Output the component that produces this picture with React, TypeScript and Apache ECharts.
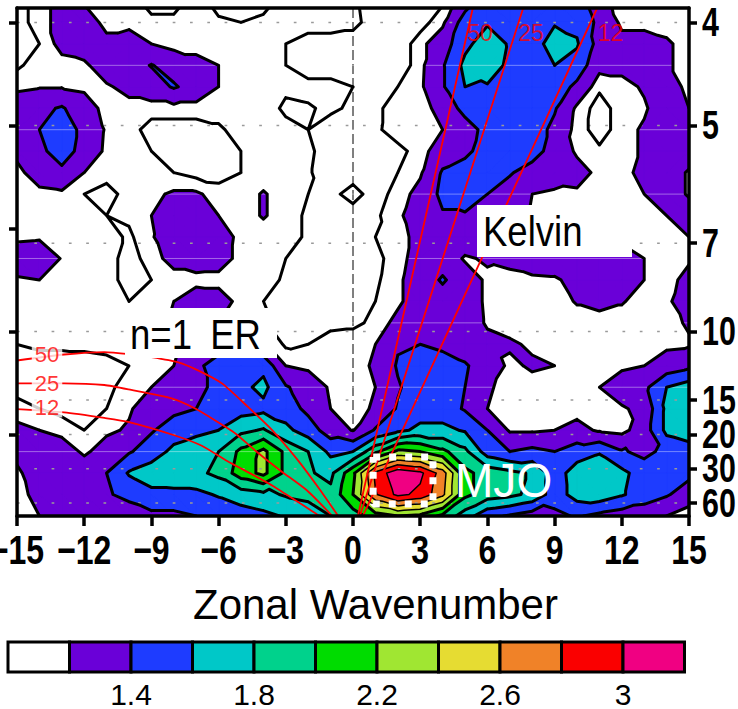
import React, { useEffect, useRef } from 'react';
import * as echarts from 'echarts';

// ---------- grid of the spectrum (columns: zonal wavenumber, rows: frequency n/96 cpd, top row first)
const WAVENUMBERS = [-15, -14, -13, -12, -11, -10, -9, -8, -7, -6, -5, -4, -3, -2, -1, 0, 1, 2, 3, 4, 5, 6, 7, 8, 9, 10, 11, 12, 13, 14, 15];
const FREQUENCIES = [25 / 96, 24 / 96, 23 / 96, 22 / 96, 21 / 96, 20 / 96, 19 / 96, 18 / 96, 17 / 96, 16 / 96, 15 / 96, 14 / 96, 13 / 96, 12 / 96, 11 / 96, 10 / 96, 9 / 96, 8 / 96, 7 / 96, 6 / 96, 5 / 96, 4 / 96, 3 / 96, 2 / 96, 1 / 96];

const F25 = [1.05, 1.15, 1.25, 1.18, 1.15, 1.15, 1.05, 1.05, 1.15, 1.05, 1.05, 1.05, 1.15, 1.15, 1.15, 1.12, 1.05, 1.05, 1.05, 1.08, 1.3, 1.5, 1.5, 1.5, 1.5, 1.5, 1.25, 1.15, 1.15, 1.15, 1.15];
const F24 = [1.05, 1.15, 1.25, 1.3, 1.15, 1.15, 1.13, 1.13, 1.15, 1.12, 1.1, 1.13, 1.15, 1.15, 1.15, 1.13, 1.05, 1.05, 1.05, 1.17, 1.5, 1.58, 1.5, 1.5, 1.58, 1.55, 1.35, 1.17, 1.17, 1.15, 1.12];
const F23 = [1.05, 1.1, 1.25, 1.3, 1.25, 1.3, 1.2, 1.15, 1.15, 1.15, 1.15, 1.15, 1.1, 1.05, 1.05, 1.05, 1.02, 1.02, 1.16, 1.3, 1.55, 1.7, 1.58, 1.5, 1.7, 1.62, 1.32, 1.25, 1.25, 1.22, 1.15];
const F22 = [1.08, 1.15, 1.15, 1.17, 1.3, 1.3, 1.41, 1.32, 1.25, 1.2, 1.15, 1.15, 1.1, 1.05, 1.05, 1.05, 1.02, 1.02, 1.16, 1.38, 1.65, 1.72, 1.55, 1.5, 1.6, 1.52, 1.25, 1.25, 1.3, 1.22, 1.15];
const F21 = [1.17, 1.19, 1.19, 1.17, 1.18, 1.25, 1.3, 1.42, 1.32, 1.2, 1.15, 1.15, 1.12, 1.13, 1.13, 1.1, 1.05, 1.1, 1.17, 1.38, 1.6, 1.58, 1.5, 1.5, 1.52, 1.35, 1.12, 1.15, 1.22, 1.3, 1.15];
const F20 = [1.3, 1.35, 1.42, 1.28, 1.15, 1.15, 1.15, 1.15, 1.15, 1.15, 1.15, 1.15, 1.08, 1.09, 1.12, 1.08, 1.08, 1.14, 1.1, 1.3, 1.45, 1.5, 1.5, 1.5, 1.42, 1.17, 1.05, 1.15, 1.18, 1.3, 1.2];
const F19 = [1.3, 1.4, 1.5, 1.35, 1.18, 1.15, 1.05, 1.05, 1.05, 1.08, 1.15, 1.15, 1.13, 1.1, 1.05, 1.05, 1.08, 1.15, 1.1, 1.2, 1.33, 1.45, 1.5, 1.5, 1.35, 1.15, 1.05, 1.15, 1.22, 1.3, 1.3];
const F18 = [1.25, 1.35, 1.5, 1.32, 1.17, 1.15, 1.1, 1.05, 1.05, 1.06, 1.1, 1.15, 1.15, 1.12, 1.05, 1.05, 1.05, 1.07, 1.14, 1.3, 1.35, 1.5, 1.52, 1.5, 1.3, 1.18, 1.12, 1.15, 1.22, 1.3, 1.3];
const F17 = [1.15, 1.3, 1.35, 1.2, 1.15, 1.15, 1.15, 1.1, 1.06, 1.05, 1.1, 1.15, 1.15, 1.11, 1.05, 1.05, 1.05, 1.1, 1.18, 1.42, 1.5, 1.5, 1.42, 1.3, 1.3, 1.25, 1.17, 1.15, 1.25, 1.3, 1.18];
const F16 = [1.15, 1.15, 1.17, 1.1, 1.05, 1.15, 1.17, 1.22, 1.22, 1.15, 1.15, 1.21, 1.15, 1.1, 1.07, 1.14, 1.05, 1.14, 1.25, 1.45, 1.5, 1.4, 1.3, 1.2, 1.17, 1.18, 1.15, 1.15, 1.2, 1.3, 1.18];
const F15 = [1.15, 1.15, 1.15, 1.15, 1.1, 1.12, 1.2, 1.32, 1.32, 1.2, 1.15, 1.21, 1.15, 1.08, 1.05, 1.05, 1.08, 1.17, 1.3, 1.38, 1.38, 1.32, 1.3, 1.18, 1.15, 1.15, 1.15, 1.15, 1.15, 1.2, 1.3];
const F14 = [1.17, 1.18, 1.15, 1.15, 1.15, 1.08, 1.18, 1.35, 1.35, 1.3, 1.15, 1.15, 1.15, 1.08, 1.05, 1.05, 1.1, 1.15, 1.25, 1.32, 1.32, 1.3, 1.28, 1.25, 1.2, 1.17, 1.15, 1.15, 1.15, 1.15, 1.2];
const F13 = [1.3, 1.32, 1.19, 1.15, 1.15, 1.05, 1.15, 1.25, 1.3, 1.28, 1.15, 1.15, 1.1, 1.05, 1.05, 1.05, 1.07, 1.15, 1.27, 1.32, 1.18, 1.22, 1.25, 1.3, 1.3, 1.3, 1.3, 1.3, 1.2, 1.15, 1.18];
const F12 = [1.18, 1.2, 1.15, 1.15, 1.15, 1.05, 1.1, 1.15, 1.15, 1.15, 1.15, 1.15, 1.08, 1.05, 1.05, 1.05, 1.08, 1.17, 1.3, 1.42, 1.3, 1.17, 1.15, 1.17, 1.18, 1.25, 1.3, 1.28, 1.2, 1.15, 1.25];
const F11 = [1.15, 1.15, 1.15, 1.15, 1.15, 1.1, 1.12, 1.2, 1.3, 1.28, 1.15, 1.1, 1.07, 1.05, 1.05, 1.05, 1.1, 1.17, 1.3, 1.32, 1.3, 1.17, 1.15, 1.15, 1.15, 1.21, 1.24, 1.21, 1.15, 1.17, 1.3];
const F10 = [1.15, 1.15, 1.15, 1.15, 1.15, 1.15, 1.15, 1.22, 1.25, 1.2, 1.15, 1.12, 1.07, 1.07, 1.07, 1.08, 1.12, 1.25, 1.3, 1.3, 1.3, 1.18, 1.15, 1.15, 1.15, 1.15, 1.15, 1.15, 1.15, 1.15, 1.22];
const F9 = [1.1, 1.12, 1.12, 1.12, 1.13, 1.15, 1.15, 1.18, 1.25, 1.3, 1.3, 1.22, 1.08, 1.1, 1.15, 1.15, 1.2, 1.38, 1.4, 1.35, 1.3, 1.25, 1.22, 1.18, 1.15, 1.15, 1.15, 1.15, 1.15, 1.17, 1.18];
const F8 = [1.05, 1.05, 1.05, 1.06, 1.07, 1.1, 1.15, 1.2, 1.35, 1.5, 1.5, 1.55, 1.2, 1.17, 1.15, 1.15, 1.22, 1.42, 1.5, 1.5, 1.42, 1.3, 1.17, 1.22, 1.2, 1.15, 1.15, 1.17, 1.2, 1.28, 1.35];
const F7 = [1.08, 1.05, 1.05, 1.05, 1.07, 1.15, 1.2, 1.3, 1.35, 1.45, 1.55, 1.65, 1.42, 1.3, 1.18, 1.15, 1.2, 1.38, 1.5, 1.5, 1.4, 1.22, 1.15, 1.15, 1.15, 1.15, 1.2, 1.3, 1.35, 1.6, 1.7];
const F6 = [1.12, 1.1, 1.07, 1.07, 1.1, 1.18, 1.3, 1.35, 1.4, 1.5, 1.52, 1.55, 1.5, 1.35, 1.2, 1.15, 1.22, 1.42, 1.5, 1.5, 1.38, 1.2, 1.15, 1.15, 1.15, 1.15, 1.18, 1.18, 1.25, 1.65, 1.75];
const F5 = [1.25, 1.2, 1.15, 1.1, 1.17, 1.22, 1.38, 1.5, 1.55, 1.6, 1.75, 1.82, 1.65, 1.5, 1.3, 1.19, 1.42, 1.55, 1.65, 1.65, 1.58, 1.4, 1.18, 1.18, 1.2, 1.25, 1.18, 1.15, 1.3, 1.65, 1.72];
const F4 = [1.25, 1.3, 1.3, 1.17, 1.28, 1.38, 1.5, 1.65, 1.72, 1.8, 2.05, 2.25, 1.95, 1.8, 1.55, 1.6, 1.95, 2.25, 2.2, 2.05, 1.85, 1.5, 1.4, 1.45, 1.4, 1.5, 1.58, 1.42, 1.35, 1.45, 1.5];
const F3 = [1.17, 1.3, 1.3, 1.32, 1.4, 1.62, 1.7, 1.72, 1.75, 1.85, 2.1, 2.25, 1.95, 1.82, 1.75, 2.15, 2.85, 3.15, 3.05, 2.7, 2.05, 1.92, 1.85, 1.78, 1.5, 1.7, 1.75, 1.65, 1.5, 1.5, 1.45];
const F2 = [1.15, 1.25, 1.3, 1.3, 1.38, 1.45, 1.55, 1.55, 1.55, 1.62, 1.7, 1.75, 1.82, 1.85, 1.85, 2.2, 2.78, 3.05, 2.95, 2.65, 2.05, 1.9, 1.85, 1.75, 1.5, 1.68, 1.72, 1.62, 1.5, 1.42, 1.3];
const F1 = [1.15, 1.2, 1.3, 1.3, 1.3, 1.3, 1.35, 1.35, 1.4, 1.45, 1.5, 1.55, 1.62, 1.7, 1.8, 1.9, 2.1, 2.2, 2.15, 1.95, 1.7, 1.45, 1.38, 1.3, 1.35, 1.42, 1.35, 1.3, 1.28, 1.2, 1.12];
const POWER_ROWS = [F25, F24, F23, F22, F21, F20, F19, F18, F17, F16, F15, F14, F13, F12, F11, F10, F9, F8, F7, F6, F5, F4, F3, F2, F1];

// ---------- contour levels / colours
const FILL_LEVELS = [1.2, 1.4, 1.6, 1.8, 2.0, 2.2, 2.4, 2.6, 2.8, 3.0];
const FILL_COLORS = ['#6a00d8', '#1e3cff', '#00c8c8', '#00d28c', '#00dc00', '#a0e632', '#e6dc32', '#f08228', '#fa0000', '#f00082'];
const LINE_LEVELS = [1.1, 1.2, 1.4, 1.6, 1.8, 2.0, 2.2, 2.4, 2.6, 2.8, 3.0];
const COLORBAR_COLORS = ['#ffffff', ...FILL_COLORS];
const COLORBAR_LABELS = ['1.4', '1.8', '2.2', '2.6', '3'];
const COLORBAR_LABEL_AT = [2, 4, 6, 8, 10];

// ---------- axes
const F_MIN = 1 / 96;
const F_MAX = 0.257;
const WAVENUMBER_TICKS = [-15, -12, -9, -6, -3, 0, 3, 6, 9, 12, 15];
const PERIOD_TICKS = [4, 5, 7, 10, 15, 20, 30, 60];
const FREQ_TICKS = [0.05, 0.1, 0.15, 0.2, 0.25];
const SEAM_FREQS = [1 / 96, 4 / 96, 7 / 96, 10 / 96, 13 / 96, 16 / 96, 19 / 96, 22 / 96];

// ---------- dispersion curves (wavenumber, frequency)
const KELVIN_50 = [[0, 0], [5.35, 0.257]];
const KELVIN_25 = [[0, 0], [7.6, 0.257]];
const KELVIN_12 = [[0, 0], [10.9, 0.257]];
const ER_50 = [[-15, 0.0859], [-12.9, 0.0888], [-11.1, 0.09], [-10, 0.089], [-9, 0.0875], [-7.8, 0.085], [-6.9, 0.081], [-5.85, 0.0748], [-4.7, 0.0635], [-3.6, 0.052], [-2.5, 0.038], [-1.5, 0.0235], [-0.66, 0.0104]];
const ER_25 = [[-15, 0.0748], [-12.9, 0.0748], [-11.1, 0.074], [-9.9, 0.0716], [-8.1, 0.0675], [-7.05, 0.0626], [-6.15, 0.0568], [-5.25, 0.0505], [-4.4, 0.0425], [-3.25, 0.0325], [-2.05, 0.0228], [-0.92, 0.0104]];
const ER_12 = [[-15, 0.0623], [-12.9, 0.0607], [-11.1, 0.058], [-10, 0.056], [-7.95, 0.0495], [-6.75, 0.0445], [-5.6, 0.037], [-4.4, 0.03], [-3.5, 0.0245], [-1.6, 0.0112], [-1.45, 0.0104]];
const KELVIN_LABELS = ['50', '25', '12'];
const KELVIN_LABEL_POS = [[5.67, 0.2449], [7.95, 0.2449], [11.5, 0.2449]];
const ER_LABELS = ['50', '25', '12'];
const ER_LABEL_POS = [[-13.66, 0.089], [-13.66, 0.0745], [-13.66, 0.0631]];
const MJO_BOX = [[0.9, 0.039], [3.57, 0.039], [3.57, 0.0162], [0.9, 0.0162], [0.9, 0.039]];

type P = { x: number; y: number; v: number };
const lerp = (a: P, b: P, t: number): P => ({ x: a.x + t * (b.x - a.x), y: a.y + t * (b.y - a.y), v: a.v + t * (b.v - a.v) });

function clipPoly(poly: P[], fn: (p: P) => number): P[] {
  const out: P[] = [];
  const n = poly.length;
  for (let i = 0; i < n; i++) {
    const cur = poly[i];
    const prev = poly[(i + n - 1) % n];
    const fc = fn(cur);
    const fp = fn(prev);
    if (fc >= 0) {
      if (fp < 0) out.push(lerp(prev, cur, fp / (fp - fc)));
      out.push(cur);
    } else if (fp >= 0) {
      out.push(lerp(prev, cur, fp / (fp - fc)));
    }
  }
  return out;
}

function isoSeg(poly: P[], L: number): P[] | null {
  const pts: P[] = [];
  const n = poly.length;
  for (let i = 0; i < n; i++) {
    const a = poly[i];
    const b = poly[(i + 1) % n];
    const da = a.v - L;
    const db = b.v - L;
    if ((da < 0) !== (db < 0)) pts.push(lerp(a, b, da / (da - db)));
  }
  return pts.length >= 2 ? [pts[0], pts[1]] : null;
}

const f1 = (n: number) => n.toFixed(1);

function renderField(params: any, api: any) {
  if (params.dataIndex !== 0) return null;
  const cs = params.coordSys;
  const top = cs.y;
  const bottom = cs.y + cs.height;
  const left = cs.x;
  const right = cs.x + cs.width;
  const xs = WAVENUMBERS.map((k) => api.coord([k, F_MIN])[0]);
  const ys = FREQUENCIES.map((f) => api.coord([0, f])[1]);
  const fillD: string[][] = FILL_LEVELS.map(() => []);
  const lineD: string[][] = LINE_LEVELS.map(() => []);
  const node = (r: number, c: number): P => ({ x: xs[c], y: ys[r], v: POWER_ROWS[r][c] + 1e-4 });
  for (let r = 0; r < FREQUENCIES.length - 1; r++) {
    for (let c = 0; c < WAVENUMBERS.length - 1; c++) {
      const a = node(r, c), b = node(r, c + 1), cc = node(r + 1, c + 1), d = node(r + 1, c);
      const tris = Math.abs(a.v - cc.v) <= Math.abs(b.v - d.v) ? [[a, b, cc], [a, cc, d]] : [[a, b, d], [b, cc, d]];
      for (const tri of tris) {
        let base = clipPoly(tri, (p) => p.y - top);
        base = clipPoly(base, (p) => bottom - p.y);
        if (base.length < 3) continue;
        FILL_LEVELS.forEach((L, i) => {
          const poly = clipPoly(base, (p) => p.v - L);
          if (poly.length >= 3) {
            fillD[i].push('M' + poly.map((p) => f1(p.x) + ',' + f1(p.y)).join('L') + 'Z');
          }
        });
        LINE_LEVELS.forEach((L, i) => {
          const s = isoSeg(base, L);
          if (s) lineD[i].push('M' + f1(s[0].x) + ',' + f1(s[0].y) + 'L' + f1(s[1].x) + ',' + f1(s[1].y));
        });
      }
    }
  }
  const children: any[] = [];
  const x0 = api.coord([0, F_MIN])[0];
  children.push({ type: 'line', shape: { x1: x0, y1: top, x2: x0, y2: bottom }, style: { stroke: '#000', lineWidth: 1, lineDash: [10, 4] } });
  fillD.forEach((parts, i) => {
    if (parts.length) children.push({ type: 'path', shape: { pathData: parts.join('') }, style: { fill: FILL_COLORS[i], stroke: FILL_COLORS[i], lineWidth: 0.6 } });
  });
  SEAM_FREQS.forEach((f) => {
    const y = api.coord([0, f])[1];
    children.push({ type: 'line', shape: { x1: left, y1: y, x2: right, y2: y }, style: { stroke: 'rgba(255,255,255,0.4)', lineWidth: 1 } });
  });
  PERIOD_TICKS.forEach((p) => {
    const y = api.coord([0, 1 / p])[1];
    children.push({ type: 'line', shape: { x1: left, y1: y, x2: right, y2: y }, style: { stroke: '#9a9a9a', lineWidth: 1.5, lineDash: [2.7, 14.6] } });
  });
  const thick: string[] = [];
  const thin: string[] = [];
  LINE_LEVELS.forEach((L, i) => {
    (L > 2.25 ? thin : thick).push(lineD[i].join(''));
  });
  children.push({ type: 'path', shape: { pathData: thick.join('') }, style: { fill: 'none', stroke: '#000', lineWidth: 3, lineCap: 'round', lineJoin: 'round' } });
  if (thin.join('').length) children.push({ type: 'path', shape: { pathData: thin.join('') }, style: { fill: 'none', stroke: '#000', lineWidth: 1.5, lineCap: 'round', lineJoin: 'round' } });
  return { type: 'group', children };
}

const FONT = 'Liberation Sans';

function textEl(text: string, x: number, y: number, size: number, color: string, scaleX = 1, align = 'left', weight = 'normal', lineHeight?: number) {
  return {
    type: 'text', x, y, scaleX, z: 101,
    style: {
      text, fill: color, fontSize: size, fontFamily: FONT, fontWeight: weight,
      align, textAlign: align, verticalAlign: 'middle', textVerticalAlign: 'middle',
      lineHeight: lineHeight ?? size,
    },
  };
}

function baseGraphic(): any[] {
  const cbX0 = 8, cbW = 61.5, cbY = 642, cbH = 30;
  const graphic: any[] = [
    { type: 'rect', z: 100, shape: { x: 477, y: 205, width: 155, height: 52 }, style: { fill: '#fff' } },
    textEl('Kelvin', 483, 231, 43, '#000', 0.85),
    { type: 'rect', z: 100, shape: { x: 125, y: 308, width: 152, height: 50 }, style: { fill: '#fff' } },
    textEl('n=1\u2002ER', 130, 334, 43, '#000', 0.85),
    textEl('MJO', 455, 480, 49, '#fff', 0.94),
    textEl('Zonal Wavenumber', 193, 604, 42, '#000', 1),
  ];
  COLORBAR_COLORS.forEach((c, i) => {
    graphic.push({ type: 'rect', z: 100, shape: { x: cbX0 + i * cbW, y: cbY, width: cbW, height: cbH }, style: { fill: c, stroke: '#000', lineWidth: 3 } });
  });
  COLORBAR_LABELS.forEach((t, i) => {
    graphic.push(textEl(t, cbX0 + COLORBAR_LABEL_AT[i] * cbW, 694, 30, '#000', 1, 'center'));
  });
  return graphic;
}

function buildOption(): any {
  const redLine = (data: number[][]) => ({
    type: 'line', data, symbol: 'none', showSymbol: false, smooth: 0.2, clip: true, silent: true, z: 5,
    lineStyle: { color: '#ff0000', width: 1.8 },
  });

  return {
    animation: false,
    backgroundColor: '#ffffff',
    grid: { left: 17, right: 49, top: 8, bottom: 193, containLabel: false, outerBoundsMode: 'none', show: false },
    xAxis: [
      {
        type: 'value', min: -15, max: 15, interval: 3, position: 'bottom', z: 20,
        axisLine: { show: true, lineStyle: { color: '#000', width: 3.5 } },
        axisTick: { show: true, inside: false, length: 10, lineStyle: { color: '#000', width: 3.5 } },
        axisLabel: { show: false },
        splitLine: { show: false },
      },
      {
        type: 'value', min: -15, max: 15, position: 'top', z: 20,
        axisLine: { show: true, onZero: false, lineStyle: { color: '#000', width: 3.5 } },
        axisTick: { show: false }, axisLabel: { show: false }, splitLine: { show: false },
      },
    ],
    yAxis: [
      {
        type: 'value', min: F_MIN, max: F_MAX, position: 'right', z: 20,
        axisLine: { show: true, onZero: false, lineStyle: { color: '#000', width: 3.5 } },
        axisTick: { show: true, inside: false, length: 8, customValues: PERIOD_TICKS.map((p) => 1 / p), lineStyle: { color: '#000', width: 3.5 } },
        axisLabel: { show: false, customValues: PERIOD_TICKS.map((p) => 1 / p) },
        splitLine: { show: false },
      },
      {
        type: 'value', min: F_MIN, max: F_MAX, position: 'left', z: 20,
        axisLine: { show: true, onZero: false, lineStyle: { color: '#000', width: 3.5 } },
        axisTick: { show: true, inside: false, length: 8, customValues: FREQ_TICKS, lineStyle: { color: '#000', width: 3.5 } },
        axisLabel: { show: false, customValues: FREQ_TICKS }, splitLine: { show: false },
      },
    ],
    series: [
      { type: 'custom', coordinateSystem: 'cartesian2d', data: [[0, 0.1]], renderItem: renderField, silent: true, clip: true, z: 2 },
      redLine(KELVIN_50), redLine(KELVIN_25), redLine(KELVIN_12),
      redLine(ER_50), redLine(ER_25), redLine(ER_12),
      {
        type: 'line', data: MJO_BOX, symbol: 'none', silent: true, z: 6, clip: false,
        lineStyle: { color: '#ffffff', width: 7, type: [7, 9], cap: 'butt' },
      },
      {
        type: 'scatter', symbolSize: 1, silent: true, z: 7, itemStyle: { color: 'rgba(0,0,0,0)' },
        data: KELVIN_LABEL_POS.map((p, i) => ({ name: KELVIN_LABELS[i], value: p })),
        label: { show: true, position: 'inside', formatter: '{b}', color: '#ff0000', fontSize: 23, fontFamily: FONT },
      },
      {
        type: 'scatter', symbolSize: 1, silent: true, z: 7, itemStyle: { color: 'rgba(0,0,0,0)' },
        data: ER_LABEL_POS.map((p, i) => ({ name: ER_LABELS[i], value: p })),
        label: { show: true, position: 'inside', formatter: '{b}', color: '#ff0000', fontSize: 22, lineHeight: 20, fontFamily: FONT, backgroundColor: '#ffffff', padding: [0, 3] },
      },
    ],
    graphic: baseGraphic(),
  };
}

export default function App() {
  const ref = useRef<HTMLDivElement>(null);
  useEffect(() => {
    if (!ref.current) return;
    const chart = echarts.init(ref.current, null, { renderer: 'svg' });
    chart.setOption(buildOption());
    // tick labels placed through the axis scales, in a condensed bold face like the reference
    const periodLabels = PERIOD_TICKS.map((p) => {
      const y = chart.convertToPixel({ yAxisIndex: 0 }, 1 / p) as number;
      return textEl(String(p), 702, y, 40, '#000', 0.76, 'left', 'bold', 31);
    });
    const waveLabels = WAVENUMBER_TICKS.map((k) => {
      const x = chart.convertToPixel({ xAxisIndex: 0 }, k) as number;
      const text = k < 0 ? '\u2212' + Math.abs(k) : String(k);
      const el: any = textEl(text, x, 550, 40, '#000', 0.8, 'center', 'bold', 32);
      return el;
    });
    chart.setOption({ graphic: [...baseGraphic(), ...periodLabels, ...waveLabels] });
    return () => chart.dispose();
  }, []);
  return <div ref={ref} style={{ position: 'absolute', left: 0, top: 0, width: 738, height: 709, background: '#fff' }} />;
}
